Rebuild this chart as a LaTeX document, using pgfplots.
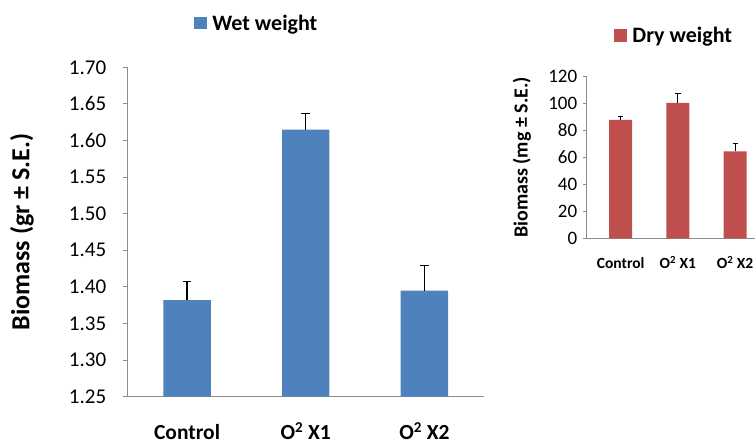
\documentclass[border=0pt]{standalone}
\usepackage{pgfplots}
\pgfplotsset{compat=1.18}
\usepackage{fontspec}
\setmainfont{Carlito}
\definecolor{wetblue}{HTML}{4F81BD}
\definecolor{dryred}{HTML}{C0504D}
\definecolor{axgray}{HTML}{8C8C8C}
\begin{document}
\begin{tikzpicture}
\path[use as bounding box] (0pt,0pt) rectangle (755pt,445pt);
\pgfplotsset{
  common/.style={
    scale only axis,
    axis x line*=bottom, axis y line*=left,
    axis line style={axgray, line width=1pt, -},
    xtick={0,1,2},
    xticklabels={Control, O\textsuperscript{2} X1, O\textsuperscript{2} X2},
    xtick style={draw=none},
    ytick style={axgray, line width=1pt},
    tick align=outside,
    major tick length=5pt,
    ybar, bar width=0.4,
    /pgf/number format/assume math mode=true,
    legend image code/.code={\fill[##1] (0pt,-6pt) rectangle (12.5pt,6.5pt);},
    legend style={draw=none, fill=none, inner sep=0pt, /tikz/every even column/.append style={column sep=0pt}},
  },
}
% Left: wet weight
\begin{axis}[common,
  at={(127.7pt,48.3pt)}, anchor=south west,
  width=356.1pt, height=329.4pt,
  xmin=-0.5, xmax=2.5,
  ymin=1.25, ymax=1.70,
  ytick={1.25,1.30,...,1.71},
  yticklabel style={/pgf/number format/fixed, /pgf/number format/fixed zerofill, /pgf/number format/precision=2, font=\fontsize{21}{21}\selectfont, xshift=-13pt},
  xticklabel style={font=\fontsize{21.5}{21.5}\selectfont\bfseries, anchor=base, inner sep=0pt, yshift=-38pt},
  ylabel={Biomass (gr ± S.E.)},
  ylabel style={font=\fontsize{26}{26}\selectfont\bfseries, at={(axis description cs:-0.297,0.5)}, anchor=center},
  legend style={at={(axis description cs:0.186,1.134)}, anchor=west, font=\fontsize{22}{22}\selectfont\bfseries},
]
\addplot[fill=wetblue, draw=none,
  error bars/.cd, y dir=plus, y explicit,
  error bar style={black, line width=1.3pt},
  error mark options={rotate=90, mark size=4.3pt, line width=1.3pt, black}]
  coordinates {(0,1.382) +- (0,0.025) (1,1.615) +- (0,0.022) (2,1.395) +- (0,0.034)};
\addlegendentry{\,Wet weight}
\end{axis}
% Right: dry weight
\begin{axis}[common,
  at={(586.7pt,206.7pt)}, anchor=south west,
  width=168.2pt, height=161.6pt,
  xmin=-0.594, xmax=2.346,
  ymin=0, ymax=120,
  ytick={0,20,...,120},
  major tick length=4pt,
  yticklabel style={font=\fontsize{19}{19}\selectfont, xshift=-2pt},
  xticklabel style={font=\fontsize{15.5}{15.5}\selectfont\bfseries, anchor=base, inner sep=0pt, yshift=-26pt},
  ylabel={Biomass (mg ± S.E.)},
  ylabel style={font=\fontsize{20}{20}\selectfont\bfseries, at={(axis description cs:-0.386,0.5)}, anchor=center},
  legend style={at={(axis description cs:0.163,1.252)}, anchor=west, font=\fontsize{22}{22}\selectfont\bfseries},
]
\addplot[fill=dryred, draw=none,
  error bars/.cd, y dir=plus, y explicit,
  error bar style={black, line width=1.1pt},
  error mark options={rotate=90, mark size=2.6pt, line width=1.1pt, black}]
  coordinates {(0,88) +- (0,2.5) (1,100.5) +- (0,7) (2,64.5) +- (0,6)};
\addlegendentry{\,Dry weight}
\end{axis}
\end{tikzpicture}
\end{document}
